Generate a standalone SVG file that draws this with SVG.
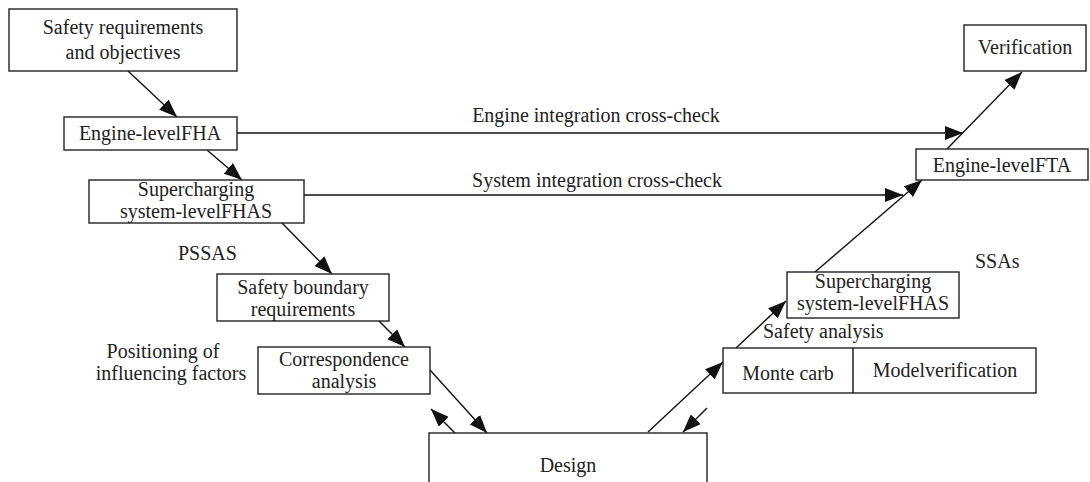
<svg xmlns="http://www.w3.org/2000/svg" width="1090" height="482" viewBox="0 0 1090 482">
<defs>
<marker id="ah" markerUnits="userSpaceOnUse" markerWidth="18" markerHeight="14" viewBox="0 0 18 14" refX="18" refY="7" orient="auto">
<path d="M0,0 L18,7 L0,14 Z" fill="#111"/>
</marker>
</defs>
<style>
.b{fill:#fff;stroke:#222;stroke-width:1.4}
.t{font-family:"Liberation Serif","Times New Roman",serif;font-size:20px;fill:#222}
.m{text-anchor:middle}
.c{stroke:#111;stroke-width:1.4;fill:none}
.a{marker-end:url(#ah)}
</style>
<rect width="1090" height="482" fill="#fff"/>
<g id="connectors">
<line class="c a" x1="128" y1="71" x2="177" y2="117"/>
<line class="c a" x1="207" y1="150" x2="242" y2="180"/>
<line class="c a" x1="282" y1="223" x2="332" y2="274"/>
<line class="c a" x1="379" y1="321" x2="405" y2="347"/>
<line class="c a" x1="430" y1="370" x2="487" y2="433"/>
<line class="c a" x1="455" y1="433" x2="431" y2="409"/>
<line class="c a" x1="648" y1="432" x2="723" y2="362"/>
<line class="c a" x1="707" y1="408" x2="683" y2="432"/>
<line class="c a" x1="736" y1="348" x2="786" y2="301"/>
<line class="c a" x1="815" y1="272" x2="922" y2="180"/>
<line class="c a" x1="947" y1="149" x2="1022" y2="72"/>
<line class="c a" x1="237" y1="133" x2="963" y2="133"/>
<line class="c a" x1="304" y1="195" x2="903" y2="195"/>
<text class="t m" x="596" y="122">Engine integration cross-check</text>
<text class="t m" x="597" y="187">System integration cross-check</text>
</g>
<g id="n1"><rect class="b" x="9" y="9" width="228" height="62"/><text class="t m" x="123" y="34">Safety requirements</text><text class="t m" x="123" y="59">and objectives</text></g>
<g id="n2"><rect class="b" x="64" y="117" width="173" height="33"/><text class="t m" x="150" y="140">Engine-levelFHA</text></g>
<g id="n3"><rect class="b" x="89" y="180" width="215" height="43"/><text class="t m" x="196" y="196">Supercharging</text><text class="t m" x="196" y="218">system-levelFHAS</text></g>
<g id="l1"><text class="t" x="178" y="260">PSSAS</text></g>
<g id="n4"><rect class="b" x="217" y="274" width="172" height="47"/><text class="t m" x="303" y="294">Safety boundary</text><text class="t m" x="303" y="316">requirements</text></g>
<g id="l2"><text class="t m" x="163" y="358">Positioning of</text><text class="t m" x="171" y="380">influencing factors</text></g>
<g id="n5"><rect class="b" x="258" y="347" width="172" height="47"/><text class="t m" x="344" y="366">Correspondence</text><text class="t m" x="344" y="388">analysis</text></g>
<g id="n6"><rect class="b" x="429" y="433" width="278" height="60"/><text class="t m" x="568" y="472">Design</text></g>
<g id="n7"><rect class="b" x="723" y="348" width="313" height="45"/><line class="c" x1="853" y1="348" x2="853" y2="393"/><text class="t m" x="788" y="380">Monte carb</text><text class="t m" x="945" y="377">Modelverification</text></g>
<g id="l3"><text class="t" x="763" y="338">Safety analysis</text></g>
<g id="n8"><rect class="b" x="787" y="272" width="172" height="46"/><text class="t m" x="873" y="288">Supercharging</text><text class="t m" x="873" y="310">system-levelFHAS</text></g>
<g id="l4"><text class="t" x="975" y="268">SSAs</text></g>
<g id="n9"><rect class="b" x="916" y="149" width="172" height="31"/><text class="t m" x="1002" y="172">Engine-levelFTA</text></g>
<g id="n10"><rect class="b" x="964" y="25" width="122" height="46"/><text class="t m" x="1025" y="54">Verification</text></g>
</svg>
